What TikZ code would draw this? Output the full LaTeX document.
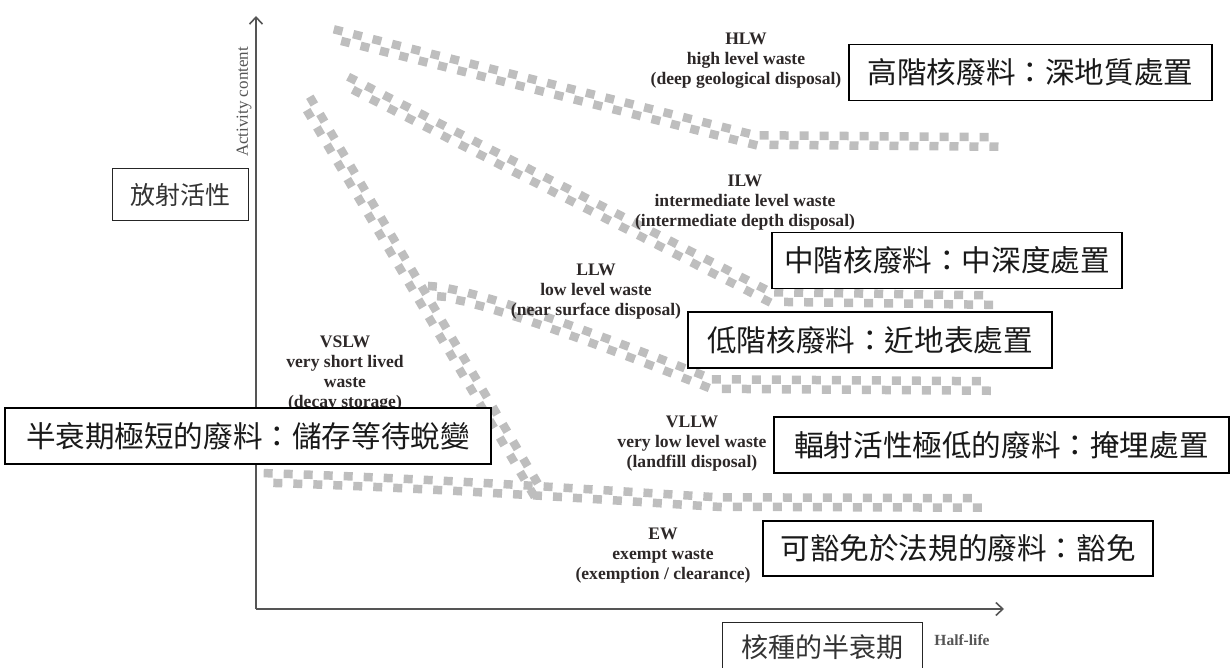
\documentclass[tikz,border=0pt]{standalone}
\usepackage{fontspec}
\setmainfont{Liberation Serif}
\newfontfamily\cjk{Noto Sans CJK TC}
\usetikzlibrary{decorations.markings,arrows.meta}
\definecolor{bandgray}{RGB}{190,190,190}
\definecolor{labtxt}{RGB}{45,40,40}
\definecolor{axisgray}{RGB}{85,85,85}
\begin{document}
\begin{tikzpicture}[x=1pt,y=-1pt,
  cbox/.style={draw=black, fill=white, line width=1.6pt, text=black!90,
    font=\cjk\fontsize{29.6}{34}\selectfont, minimum height=56pt, inner sep=0pt},
  thinbox/.style={draw=black!85, fill=white, line width=1pt, text=black!80,
    inner sep=0pt},
  elab/.style={align=center, text=labtxt, inner sep=0pt,
    font=\bfseries\fontsize{17.6}{20}\selectfont},
  band/.style={decoration={markings, mark=between positions 0 and 1 step 20pt with
    {\fill[bandgray] (-4.5,-9) rectangle (4.5,-0.5); \fill[bandgray] (5.5,0.5) rectangle (14.5,9);}},
    decorate},
  axisline/.style={draw=axisgray, line width=1.6pt, -{Straight Barb[length=7pt,width=13pt,line width=1.6pt]}}
]
\useasboundingbox (0,0) rectangle (1232,668);

% axes
\coordinate (O) at (256,609);
\coordinate (Ytop) at (256,16);
\coordinate (Xend) at (1004,609);
\draw[axisline] (O) -- (Ytop);
\draw[axisline] (O) -- (Xend);

% bands
\coordinate (h1) at (337,35);  \coordinate (h2) at (755,140); \coordinate (h3) at (1000,142);
\coordinate (i1) at (350,83);  \coordinate (i2) at (770,297); \coordinate (i3) at (985,300);
\coordinate (l1) at (432,291); \coordinate (l2) at (712,384); \coordinate (l3) at (988,386);
\coordinate (s1) at (308,103); \coordinate (s2) at (535,488);
\coordinate (e1) at (268,478); \coordinate (e2) at (717,502); \coordinate (e3) at (985,503);
\path[band] (h1) -- (h2) -- (h3);
\path[band] (i1) -- (i2) -- (i3);
\path[band] (l1) .. controls (480,295) and (600,340) .. (l2) -- (l3);
\path[band] (s1) -- (s2);
\path[band] (e1) .. controls (450,484) and (600,495) .. (e2) -- (e3);

% axis captions
\node[rotate=90, text=axisgray, inner sep=0pt, font=\fontsize{17}{19}\selectfont] (act) at (244,102) {Activity content};
\node[text=axisgray, inner sep=0pt, font=\bfseries\fontsize{15.5}{17}\selectfont] (hl) at (962,640) {Half-life};

% English labels
\node[elab] (hlw) at (746,61) {HLW\\high level waste\\(deep geological disposal)};
\node[elab] (ilw) at (745,203) {ILW\\intermediate level waste\\(intermediate depth disposal)};
\node[elab] (llw) at (596,292) {LLW\\low level waste\\(near surface disposal)};
\node[elab] (vslw) at (345,374) {VSLW\\very short lived\\waste\\(decay storage)};
\node[elab] (vllw) at (692,444) {VLLW\\very low level waste\\(landfill disposal)};
\node[elab] (ew) at (663,556) {EW\\exempt waste\\(exemption / clearance)};

% Chinese boxes
\node[cbox, minimum width=363pt] (bh) at (1030.5,72.5) {高階核廢料：深地質處置};
\node[cbox, minimum width=350pt] (bi) at (947,260.5) {中階核廢料：中深度處置};
\node[cbox, minimum width=364pt] (bl) at (870,340) {低階核廢料：近地表處置};
\node[cbox, minimum width=486pt] (bs) at (248,436) {半衰期極短的廢料：儲存等待蛻變};
\node[cbox, minimum width=455pt] (bv) at (1001.5,445) {輻射活性極低的廢料：掩埋處置};
\node[cbox, minimum width=390pt, minimum height=55pt] (be) at (958,548.5) {可豁免於法規的廢料：豁免};
\node[thinbox, minimum width=136pt, minimum height=52pt, font=\cjk\fontsize{25}{30}\selectfont] (ba) at (180,195) {放射活性};
\node[thinbox, minimum width=200pt, minimum height=50pt, font=\cjk\fontsize{27}{32}\selectfont] (bt) at (822,647) {核種的半衰期};
\end{tikzpicture}
\end{document}
